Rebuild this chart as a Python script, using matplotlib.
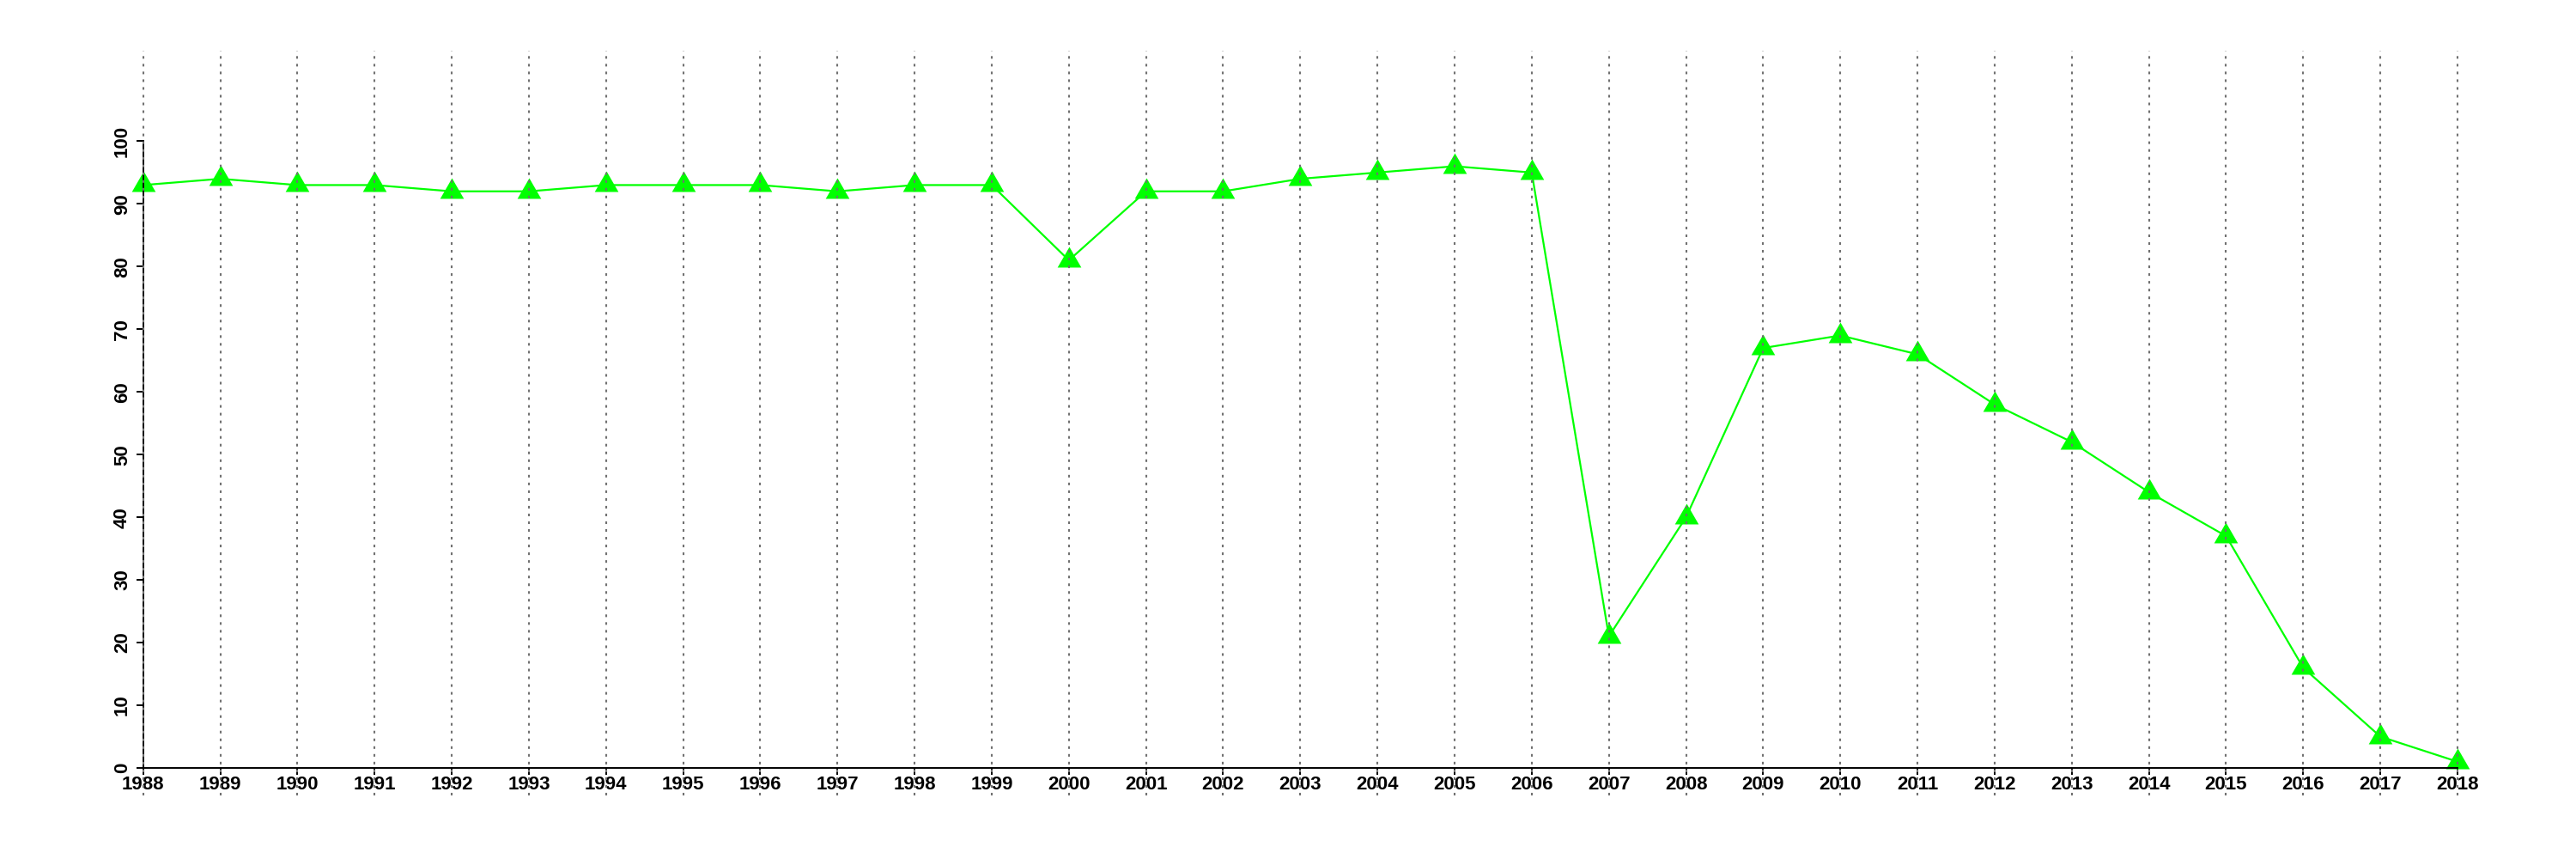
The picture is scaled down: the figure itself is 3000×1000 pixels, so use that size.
import matplotlib
matplotlib.use("Agg")
import matplotlib.pyplot as plt

# ------------------------------------------------------------------------------
years = list(range(1988, 2019))
values = [93, 94, 93, 93, 92, 92, 93, 93, 93, 92, 93, 93, 81, 92, 92, 94,
          95, 96, 95, 21, 40, 67, 69, 66, 58, 52, 44, 37, 16, 5, 1]
y_ticks = [0, 10, 20, 30, 40, 50, 60, 70, 80, 90, 100]

plt.rcParams['font.family'] = ['Liberation Sans', 'DejaVu Sans']
plt.rcParams['font.weight'] = 'bold'
plt.rcParams['lines.scale_dashes'] = False

# R style filled triangle (pch 17), centred on its centroid
tri = [(0, 1.555), (1.3468, -0.7776), (-1.3468, -0.7776), (0, 1.555)]

fig = plt.figure(figsize=(30, 10), dpi=100)
ax = fig.add_axes([0.01963, 0.0739, 0.9703, 0.8668])

ax.plot(years, values, color='#00ff00', linewidth=1.6, marker=tri,
        markersize=23, markeredgewidth=0, zorder=2)

# dotted guide at every year, across the whole plot region
for yr in years:
    ax.axvline(yr, color='#707070', linewidth=1.5, dashes=(2.2, 4.3), zorder=3)

# padded limits like R's default 4% extension
ax.set_xlim(1988 - 0.04 * 30, 2018 + 0.04 * 30)
ax.set_ylim(0 - 0.04 * 110, 110 + 0.04 * 110)

for s in ['top', 'right']:
    ax.spines[s].set_visible(False)
ax.spines['bottom'].set_position(('data', 0))
ax.spines['bottom'].set_bounds(1988, 2018)
ax.spines['left'].set_position(('data', 1988))
ax.spines['left'].set_bounds(0, 100)
for s in ['bottom', 'left']:
    ax.spines[s].set_linewidth(1.4)

ax.set_xticks(years)
ax.set_xticklabels([str(y) for y in years])
ax.set_yticks(y_ticks)
ax.set_yticklabels([str(v) for v in y_ticks], rotation=90, va='center')
ax.tick_params(axis='both', direction='out', length=5.8, width=1.4,
               labelsize=16)
ax.tick_params(axis='x', pad=0.5)
ax.tick_params(axis='y', pad=4)

fig.savefig('out.png', dpi=100)
